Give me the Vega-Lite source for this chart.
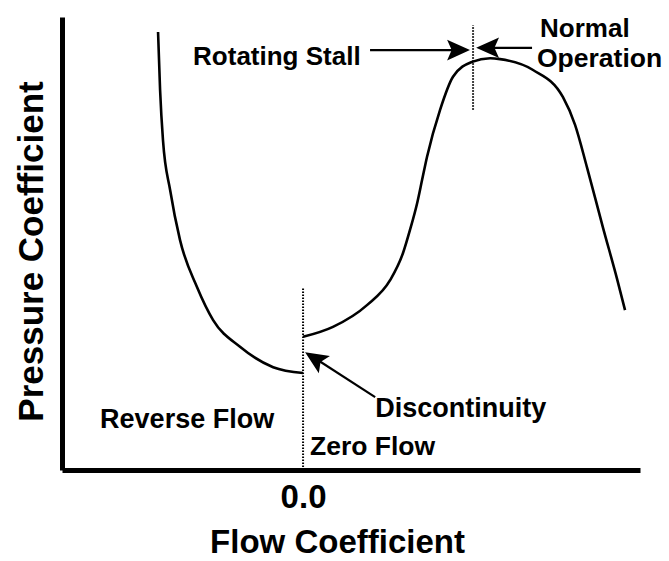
{
  "$schema": "https://vega.github.io/schema/vega-lite/v6.json",
  "width": 578,
  "height": 453,
  "autosize": {"type": "none"},
  "padding": {"left": 62, "top": 17, "right": 29, "bottom": 91},
  "background": "white",
  "config": {
    "view": {"stroke": null},
    "font": "Liberation Sans, Arial, sans-serif"
  },
  "datasets": {
    "curve": [
      {"branch": "reverse", "x": -0.853, "y": 9.67},
      {"branch": "reverse", "x": -0.841, "y": 8.39},
      {"branch": "reverse", "x": -0.824, "y": 7.28},
      {"branch": "reverse", "x": -0.782, "y": 6.18},
      {"branch": "reverse", "x": -0.724, "y": 5.08},
      {"branch": "reverse", "x": -0.624, "y": 4.04},
      {"branch": "reverse", "x": -0.529, "y": 3.31},
      {"branch": "reverse", "x": -0.371, "y": 2.72},
      {"branch": "reverse", "x": -0.176, "y": 2.27},
      {"branch": "reverse", "x": 0.0, "y": 2.14},
      {"branch": "forward", "x": 0.0, "y": 2.94},
      {"branch": "forward", "x": 0.176, "y": 3.16},
      {"branch": "forward", "x": 0.376, "y": 3.64},
      {"branch": "forward", "x": 0.512, "y": 4.19},
      {"branch": "forward", "x": 0.588, "y": 4.79},
      {"branch": "forward", "x": 0.629, "y": 5.3},
      {"branch": "forward", "x": 0.671, "y": 5.89},
      {"branch": "forward", "x": 0.7, "y": 6.4},
      {"branch": "forward", "x": 0.729, "y": 6.91},
      {"branch": "forward", "x": 0.806, "y": 7.95},
      {"branch": "forward", "x": 0.882, "y": 8.68},
      {"branch": "forward", "x": 0.994, "y": 9.01},
      {"branch": "forward", "x": 1.1, "y": 9.09},
      {"branch": "forward", "x": 1.159, "y": 9.07},
      {"branch": "forward", "x": 1.353, "y": 8.83},
      {"branch": "forward", "x": 1.529, "y": 8.23},
      {"branch": "forward", "x": 1.6, "y": 7.62},
      {"branch": "forward", "x": 1.671, "y": 6.67},
      {"branch": "forward", "x": 1.765, "y": 5.34},
      {"branch": "forward", "x": 1.847, "y": 4.22},
      {"branch": "forward", "x": 1.894, "y": 3.53}
    ],
    "guides": [
      {"name": "zero flow", "x": 0.0, "y": 0.0, "y2": 4.04},
      {"name": "stall", "x": 1.0, "y": 7.95, "y2": 9.82}
    ],
    "arrowLines": [
      {"name": "stall", "x": 0.394, "y": 9.27, "x2": 0.95, "y2": 9.27},
      {"name": "normal", "x": 1.347, "y": 9.32, "x2": 1.05, "y2": 9.32},
      {"name": "discontinuity", "x": 0.424, "y": 1.61, "x2": 0.061, "y2": 2.49}
    ],
    "arrowHeads": [
      {"name": "stall", "x": 0.982, "y": 9.27, "angle": 0},
      {"name": "normal", "x": 1.018, "y": 9.32, "angle": 180},
      {"name": "discontinuity", "x": 0.012, "y": 2.6, "angle": 212.7}
    ],
    "labels": [
      {"label": "Rotating Stall", "x": -0.647, "y": 8.94, "size": 26},
      {"label": "Normal", "x": 1.394, "y": 9.56, "size": 26},
      {"label": "Operation", "x": 1.376, "y": 8.9, "size": 26.5},
      {"label": "Reverse Flow", "x": -1.194, "y": 0.93, "size": 27},
      {"label": "Discontinuity", "x": 0.424, "y": 1.17, "size": 27},
      {"label": "Zero Flow", "x": 0.041, "y": 0.33, "size": 26.5}
    ]
  },
  "encoding": {
    "x": {
      "field": "x",
      "type": "quantitative",
      "scale": {"domain": [-1.418, 1.982], "nice": false, "zero": false},
      "axis": {
        "values": [0],
        "format": ".1f",
        "ticks": false,
        "grid": false,
        "domainWidth": 5,
        "domainColor": "black",
        "labelFont": "Liberation Sans, Arial, sans-serif",
        "labelFontSize": 33,
        "labelFontWeight": "bold",
        "labelColor": "black",
        "labelPadding": 11,
        "labelFlush": false,
        "title": "Flow Coefficient",
        "titleFont": "Liberation Sans, Arial, sans-serif",
        "titleFontSize": 33,
        "titleFontWeight": "bold",
        "titleColor": "black",
        "titleX": 275,
        "titleY": 82,
        "titleAlign": "center",
        "titleBaseline": "alphabetic"
      }
    },
    "y": {
      "field": "y",
      "type": "quantitative",
      "scale": {"domain": [0, 10], "nice": false, "zero": false},
      "axis": {
        "ticks": false,
        "labels": false,
        "grid": false,
        "domainWidth": 5,
        "domainColor": "black",
        "title": "Pressure Coefficient",
        "titleFont": "Liberation Sans, Arial, sans-serif",
        "titleFontSize": 35,
        "titleFontWeight": "bold",
        "titleColor": "black",
        "titleAngle": -90,
        "titleX": -20,
        "titleY": 234,
        "titleAlign": "center",
        "titleBaseline": "alphabetic"
      }
    }
  },
  "layer": [
    {
      "data": {"name": "curve"},
      "mark": {"type": "line", "interpolate": "monotone", "color": "black", "strokeWidth": 2.6, "clip": false},
      "encoding": {"detail": {"field": "branch"}}
    },
    {
      "data": {"name": "guides"},
      "mark": {"type": "rule", "color": "black", "strokeWidth": 2, "strokeDash": [1.5, 1.5]},
      "encoding": {"y2": {"field": "y2"}}
    },
    {
      "data": {"name": "arrowLines"},
      "mark": {"type": "rule", "color": "black", "strokeWidth": 2.2},
      "encoding": {"x2": {"field": "x2"}, "y2": {"field": "y2"}}
    },
    {
      "data": {"name": "arrowHeads"},
      "mark": {"type": "point", "shape": "M0,0L-1,-0.45L-0.8,0L-1,0.45Z", "filled": true, "color": "black", "opacity": 1, "size": 2100},
      "encoding": {"angle": {"field": "angle", "type": "quantitative", "scale": null}}
    },
    {
      "data": {"name": "labels"},
      "mark": {"type": "text", "align": "left", "baseline": "alphabetic", "fontWeight": "bold", "color": "black", "font": "Liberation Sans, Arial, sans-serif"},
      "encoding": {
        "text": {"field": "label"},
        "size": {"field": "size", "type": "quantitative", "scale": null}
      }
    }
  ]
}
